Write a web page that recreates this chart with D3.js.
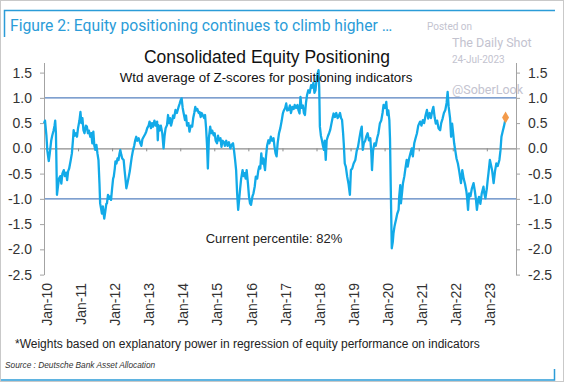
<!DOCTYPE html>
<html>
<head>
<meta charset="utf-8">
<script src="https://cdn.jsdelivr.net/npm/d3@7"></script>
<style>
  body { margin: 0; background: #fff; }
  svg { display: block; font-family: "Liberation Sans", Arial, sans-serif; }
</style>
</head>
<body>
<div id="chart"></div>
<script>
// time in decimal years, value = weighted average Z-score
const t = [
  2010.00, 2010.03, 2010.07, 2010.10, 2010.14, 2010.17, 2010.21, 2010.24, 2010.28, 2010.31, 2010.33, 2010.35,
  2010.38, 2010.41, 2010.44, 2010.48, 2010.51, 2010.54, 2010.58, 2010.61, 2010.65, 2010.68, 2010.71, 2010.74,
  2010.78, 2010.82, 2010.85, 2010.87, 2010.90, 2010.94, 2010.97,
  2011.00, 2011.04, 2011.07, 2011.10, 2011.13, 2011.16, 2011.19, 2011.23, 2011.26, 2011.29, 2011.32, 2011.36,
  2011.39, 2011.42, 2011.45, 2011.48, 2011.51, 2011.54, 2011.57, 2011.60, 2011.63, 2011.65, 2011.68, 2011.70,
  2011.73, 2011.77, 2011.80, 2011.83, 2011.85, 2011.88, 2011.91, 2011.94, 2011.97,
  2012.00, 2012.03, 2012.05, 2012.08, 2012.10, 2012.13, 2012.16, 2012.19, 2012.22, 2012.24, 2012.27, 2012.30,
  2012.34, 2012.37, 2012.40, 2012.42, 2012.45, 2012.49, 2012.52, 2012.55, 2012.58, 2012.61, 2012.65, 2012.68,
  2012.71, 2012.74, 2012.78, 2012.83, 2012.86, 2012.89, 2012.93, 2012.97,
  2013.00, 2013.03, 2013.07, 2013.10, 2013.14, 2013.17, 2013.20, 2013.24, 2013.28, 2013.32, 2013.34, 2013.36,
  2013.39, 2013.43, 2013.47, 2013.51, 2013.54, 2013.57, 2013.61, 2013.64, 2013.67, 2013.70, 2013.73, 2013.76,
  2013.79, 2013.82, 2013.86, 2013.90, 2013.95, 2013.98,
  2014.01, 2014.04, 2014.07, 2014.10, 2014.14, 2014.17, 2014.20, 2014.24, 2014.27, 2014.31, 2014.35, 2014.38,
  2014.41, 2014.44, 2014.47, 2014.50, 2014.54, 2014.57, 2014.60, 2014.63, 2014.66, 2014.70, 2014.73, 2014.76,
  2014.79, 2014.81, 2014.84, 2014.88, 2014.91, 2014.94, 2014.98,
  2015.01, 2015.04, 2015.08, 2015.11, 2015.14, 2015.18, 2015.21, 2015.24, 2015.28, 2015.31, 2015.35, 2015.39,
  2015.43, 2015.47, 2015.51, 2015.55, 2015.58, 2015.61, 2015.64, 2015.67, 2015.70, 2015.73, 2015.76, 2015.79,
  2015.83, 2015.86, 2015.89, 2015.92, 2015.95, 2015.99,
  2016.02, 2016.05, 2016.08, 2016.12, 2016.15, 2016.19, 2016.22, 2016.26, 2016.29, 2016.32, 2016.35, 2016.38,
  2016.41, 2016.44, 2016.47, 2016.49, 2016.52, 2016.55, 2016.59, 2016.62, 2016.66, 2016.70, 2016.74, 2016.77,
  2016.80, 2016.83, 2016.86, 2016.90, 2016.94, 2016.98,
  2017.01, 2017.04, 2017.08, 2017.11, 2017.14, 2017.18, 2017.22, 2017.25, 2017.29, 2017.33, 2017.36, 2017.40,
  2017.44, 2017.47, 2017.50, 2017.53, 2017.56, 2017.60, 2017.63, 2017.66, 2017.69, 2017.72, 2017.76, 2017.80,
  2017.84, 2017.87, 2017.91, 2017.94, 2017.97,
  2018.00, 2018.03, 2018.06, 2018.08, 2018.10, 2018.13, 2018.16, 2018.19, 2018.22, 2018.24, 2018.27, 2018.30,
  2018.34, 2018.37, 2018.40, 2018.44, 2018.47, 2018.50, 2018.54, 2018.58, 2018.62, 2018.65, 2018.69, 2018.72,
  2018.75, 2018.78, 2018.80, 2018.83, 2018.86, 2018.90, 2018.94, 2018.98,
  2019.01, 2019.05, 2019.09, 2019.14, 2019.18, 2019.22, 2019.26, 2019.30, 2019.33, 2019.36, 2019.39, 2019.43,
  2019.46, 2019.50, 2019.54, 2019.58, 2019.61, 2019.63, 2019.66, 2019.70, 2019.74, 2019.78, 2019.82, 2019.86,
  2019.90, 2019.94, 2019.97,
  2020.01, 2020.05, 2020.08, 2020.11, 2020.14, 2020.16, 2020.18, 2020.21, 2020.24, 2020.26, 2020.29, 2020.31,
  2020.34, 2020.37, 2020.41, 2020.43, 2020.46, 2020.48, 2020.51, 2020.54, 2020.58, 2020.61, 2020.65, 2020.68,
  2020.72, 2020.76, 2020.80, 2020.83, 2020.87, 2020.91, 2020.95, 2020.99,
  2021.04, 2021.08, 2021.12, 2021.16, 2021.20, 2021.24, 2021.28, 2021.32, 2021.36, 2021.40, 2021.43, 2021.47,
  2021.50, 2021.54, 2021.58, 2021.63, 2021.66, 2021.70, 2021.74, 2021.78, 2021.82, 2021.85, 2021.88, 2021.92,
  2021.95, 2021.98,
  2022.01, 2022.04, 2022.07, 2022.11, 2022.15, 2022.19, 2022.24, 2022.28, 2022.32, 2022.36, 2022.40, 2022.42,
  2022.45, 2022.48, 2022.52, 2022.56, 2022.61, 2022.65, 2022.68, 2022.71, 2022.74, 2022.77, 2022.81, 2022.85,
  2022.90, 2022.93, 2022.96,
  2023.00, 2023.03, 2023.05, 2023.09, 2023.13, 2023.16, 2023.20, 2023.24, 2023.28, 2023.32, 2023.37, 2023.40,
  2023.43, 2023.47, 2023.50, 2023.54
];

const zscore = [
  0.50, 0.55, 0.25, -0.05, -0.25, -0.10, 0.15, 0.25, 0.35, 0.45, 0.55, 0.30,
  -0.92, -0.75, -0.60, -0.55, -0.70, -0.50, -0.43, -0.55, -0.48, -0.63, -0.45, -0.40,
  -0.25, -0.10, 0.15, 0.36, 0.25, 0.30, 0.23,
  0.40, 0.55, 0.72, 0.50, 0.60, 0.36, 0.30, 0.45, 0.43, 0.30, 0.35, 0.23,
  0.30, 0.10, 0.33, 0.05, -0.03, 0.07, -0.10, -0.23, -0.70, -1.09, -1.20, -1.29,
  -1.15, -1.39, -1.25, -1.10, -1.09, -0.92, -1.00, -0.95, -1.02,
  -0.80, -0.60, -0.56, -0.40, -0.26, -0.30, -0.20, -0.23, -0.10, -0.03, -0.13, -0.20,
  -0.23, -0.45, -0.65, -0.79, -0.70, -0.56, -0.45, -0.30, -0.16, -0.05, 0.05, 0.16,
  0.23, 0.15, 0.20, 0.10, 0.05, 0.18, 0.23, 0.28,
  0.33, 0.40, 0.45, 0.53, 0.40, 0.50, 0.43, 0.55, 0.45, 0.53, 0.16, 0.46,
  0.35, 0.45, 0.30, 0.00, 0.25, 0.40, 0.46, 0.66, 0.50, 0.60, 0.45, 0.53,
  0.65, 0.60, 0.76, 0.70, 0.82, 0.88,
  0.95, 0.99, 0.80, 0.70, 0.56, 0.65, 0.45, 0.50, 0.33, 0.45, 0.43, 0.60,
  0.70, 0.82, 0.75, 0.78, 0.70, 0.72, 0.62, 0.70, 0.66, 0.60, 0.66, 0.40,
  0.03, -0.40, 0.20, 0.43, 0.30, 0.35, 0.26,
  0.30, 0.15, 0.10, 0.25, 0.16, 0.20, 0.03, 0.15, 0.13, 0.05, 0.15, 0.05,
  0.12, 0.00, 0.07, 0.10, -0.05, -0.23, -0.43, -0.90, -1.22, -1.02, -0.80, -0.60,
  -0.43, -0.55, -0.49, -0.60, -0.43, -0.70,
  -0.95, -1.09, -1.12, -0.95, -0.89, -0.75, -0.56, -0.60, -0.45, -0.36, -0.40, -0.10,
  -0.30, -0.20, -0.35, -0.43, -0.15, 0.05, 0.16, 0.10, 0.23, 0.15, 0.20, 0.03,
  -0.10, -0.16, 0.10, 0.30, 0.40, 0.55,
  0.69, 0.75, 0.80, 0.89, 0.75, 0.76, 0.85, 0.70, 0.82, 0.78, 0.86, 0.80,
  0.86, 0.75, 0.69, 1.02, 0.80, 0.85, 0.70, 0.66, 0.90, 1.05, 1.15, 1.10,
  1.25, 1.20, 1.30, 1.10, 1.15,
  1.35, 1.48, 1.55, 1.20, 0.43, 0.25, 0.16, 0.05, -0.03, 0.15, -0.23, 0.16,
  0.25, 0.30, 0.36, 0.50, 0.60, 0.69, 0.62, 0.70, 0.60, 0.63, 0.70, 0.60,
  0.56, 0.30, 0.10, -0.30, -0.36, -0.56, -0.70, -0.92,
  -0.43, -0.40, -0.30, -0.23, -0.05, 0.03, 0.20, 0.35, 0.43, -0.03, 0.10, 0.15,
  0.23, 0.30, 0.16, 0.20, -0.10, -0.43, -0.05, 0.10, 0.05, 0.20, 0.30, 0.49,
  0.55, 0.70, 0.86,
  0.80, 0.92, 0.66, 0.75, 0.56, 0.20, -0.76, -1.98, -1.85, -1.69, -1.55, -1.49,
  -1.40, -1.30, -1.22, -0.95, -0.73, -1.09, -0.90, -0.69, -0.55, -0.40, -0.23, -0.36,
  -0.20, -0.10, 0.00, -0.16, 0.10, 0.20, 0.30, 0.45,
  0.53, 0.45, 0.56, 0.50, 0.65, 0.76, 0.59, 0.70, 0.60, 0.75, 0.82, 0.60,
  0.49, 0.55, 0.40, 0.36, 0.50, 0.59, 0.70, 0.76, 0.90, 1.12, 0.82, 0.60,
  0.23, 0.49,
  0.30, 0.10, -0.03, -0.20, -0.30, -0.45, -0.69, -0.43, -0.60, -0.70, -0.85, -0.96,
  -1.22, -0.89, -0.95, -0.80, -0.69, -0.85, -1.00, -1.22, -1.05, -0.96, -1.10, -0.90,
  -0.76, -0.90, -0.99,
  -0.80, -0.60, -0.49, -0.23, -0.35, -0.45, -0.69, -0.45, -0.30, -0.35, -0.23, -0.05,
  0.23, 0.35, 0.43, 0.55
];

// latest reading (orange marker)
const current = { t: 2023.55, v: 0.61 };

const yTicks = [-2.5, -2.0, -1.5, -1.0, -0.5, 0.0, 0.5, 1.0, 1.5];
const bands = [1.0, -1.0];
const years = d3.range(2010, 2024);

const title = "Figure 2: Equity positioning continues to climb higher …";
const chartTitle = "Consolidated Equity Positioning";
const subtitle = "Wtd average of Z-scores for positioning indicators";
const note = "Current percentile: 82%";
const footnote = "*Weights based on explanatory power in regression of equity performance on indicators";
const source = "Source : Deutsche Bank Asset Allocation";

const W = 564, H = 382;
const BLUE = "#2b9cd8";

const toDate = d => {
  const yr = Math.floor(d);
  return new Date(yr, 0, 1 + Math.round((d - yr) * 365));
};

const data = t.map((d, i) => ({ date: toDate(d), v: zscore[i] }));

const svg = d3.select('#chart').append('svg').attr('width', W).attr('height', H);

// frame
svg.append('rect').attr('x', 0.5).attr('y', 0.5).attr('width', W - 1).attr('height', H - 1)
  .attr('fill', '#fff').attr('stroke', '#c9c9c9');
svg.append('path').attr('d', `M4.5,37V10.5H555`).attr('fill', 'none').attr('stroke', BLUE).attr('stroke-width', 1.5);
svg.append('path').attr('d', `M1,380H554.5V369`).attr('fill', 'none').attr('stroke', BLUE).attr('stroke-width', 1.5);

svg.append('text').attr('x', 10).attr('y', 31).text(title)
  .attr('fill', BLUE).style('font-family', 'Roboto, sans-serif').style('font-size', '15.7px');

const x = d3.scaleTime().domain([new Date(2010, 0, 1), new Date(2023, 10, 10)]).range([44, 516]);
const y = d3.scaleLinear().domain([-2.5, 1.7]).range([274.6, 62.5]);

// reference lines at +/-1
svg.selectAll('line.band').data(bands).join('line').attr('class', 'band')
  .attr('x1', x.range()[0]).attr('x2', x.range()[1])
  .attr('y1', d => y(d)).attr('y2', d => y(d))
  .attr('stroke', '#5480bf').attr('stroke-width', 1.3);

// zero line with yearly ticks
const zero = svg.append('g').attr('transform', `translate(0,${y(0)})`)
  .call(d3.axisBottom(x).tickValues(years.map(d => new Date(d, 0, 1))).tickSize(3).tickSizeOuter(0).tickFormat(''));
zero.select('.domain').attr('stroke', '#8c8c8c').attr('stroke-width', 1.2);
zero.selectAll('.tick line').attr('stroke', '#8c8c8c');

// y axes
const fmt = d => d.toFixed(1);
const yl = svg.append('g').attr('transform', `translate(${x.range()[0]},0)`)
  .call(d3.axisLeft(y).tickValues(yTicks).tickFormat(fmt).tickSize(4).tickSizeOuter(0).tickPadding(8));
const yr = svg.append('g').attr('transform', `translate(${x.range()[1]},0)`)
  .call(d3.axisRight(y).tickValues(yTicks).tickFormat(fmt).tickSize(4).tickSizeOuter(0).tickPadding(8));
[yl, yr].forEach(g => {
  g.select('.domain').attr('stroke', '#a3a3a3');
  g.selectAll('.tick line').attr('stroke', '#a3a3a3');
  g.selectAll('.tick text').attr('fill', '#333').style('font-size', '14px')
    .style('font-family', '"Liberation Sans", Arial, sans-serif');
});

// x labels
const xl = svg.append('g').attr('transform', 'translate(0,283)')
  .call(d3.axisBottom(x).tickValues(years.map(d => new Date(d, 0, 1)))
    .tickFormat(d3.timeFormat('Jan-%y')).tickSize(0));
xl.select('.domain').remove();
xl.selectAll('.tick text')
  .attr('transform', 'rotate(-90)').attr('x', 0).attr('y', 0).attr('dy', '0.55em')
  .style('text-anchor', 'end').attr('fill', '#333').style('font-size', '14px')
  .style('font-family', '"Liberation Sans", Arial, sans-serif');

// series
const line = d3.line().x(d => x(d.date)).y(d => y(d.v));
svg.append('path').datum(data).attr('d', line)
  .attr('fill', 'none').attr('stroke', '#12aae8').attr('stroke-width', 2.3)
  .attr('stroke-linejoin', 'round');

svg.append('path').attr('d', d3.symbol(d3.symbolDiamond, 42)())
  .attr('transform', `translate(${x(toDate(current.t))},${y(current.v)})`)
  .attr('fill', '#f39a4a');

// texts inside the chart
svg.append('text').attr('x', 267).attr('y', 63).attr('text-anchor', 'middle')
  .style('font-size', '17.5px').attr('fill', '#111').text(chartTitle);
svg.append('text').attr('x', 266).attr('y', 82).attr('text-anchor', 'middle')
  .style('font-size', '13.3px').attr('fill', '#111').text(subtitle);
svg.append('text').attr('x', 274).attr('y', 243).attr('text-anchor', 'middle')
  .style('font-size', '13px').attr('fill', '#222').text(note);
svg.append('text').attr('x', 15).attr('y', 348)
  .style('font-size', '12px').attr('fill', '#222').text(footnote);
svg.append('text').attr('x', 5).attr('y', 368)
  .style('font-size', '8.3px').style('font-style', 'italic').attr('fill', '#333').text(source);

// watermark
const wm = svg.append('g').attr('fill', '#c3c3cf').style('font-family', 'Roboto, sans-serif');
wm.append('text').attr('x', 427).attr('y', 30).style('font-size', '10px').text('Posted on');
wm.append('text').attr('x', 452).attr('y', 47).style('font-size', '12.5px').text('The Daily Shot');
wm.append('text').attr('x', 452).attr('y', 63).style('font-size', '10px').text('24-Jul-2023');
wm.append('text').attr('x', 452).attr('y', 94).style('font-size', '12.5px').text('@SoberLook');
</script>
</body>
</html>
